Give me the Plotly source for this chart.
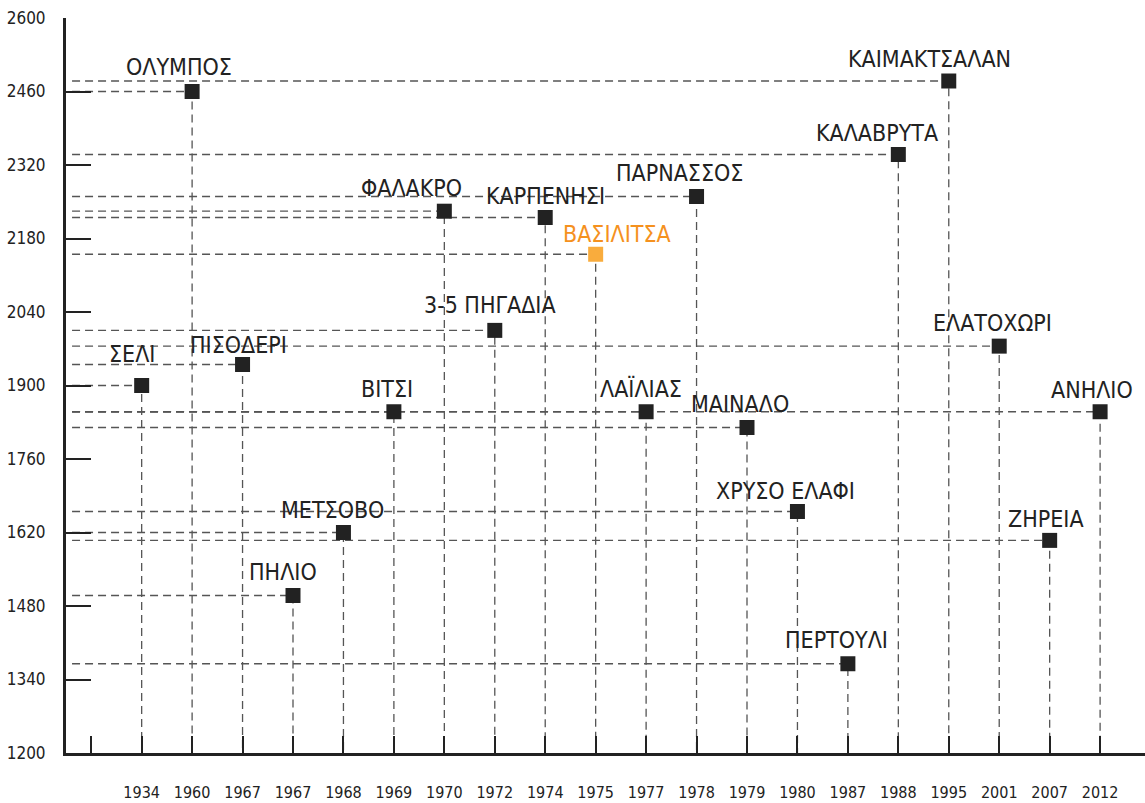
import plotly.graph_objects as go

years = ["1934", "1960", "1967", "1967", "1968", "1969", "1970", "1972", "1974", "1975",
         "1977", "1978", "1979", "1980", "1987", "1988", "1995", "2001", "2007", "2012"]
resorts = ["ΣΕΛΙ", "ΟΛΥΜΠΟΣ", "ΠΙΣΟΔΕΡΙ", "ΠΗΛΙΟ", "ΜΕΤΣΟΒΟ", "ΒΙΤΣΙ", "ΦΑΛΑΚΡΟ",
           "3-5 ΠΗΓΑΔΙΑ", "ΚΑΡΠΕΝΗΣΙ", "ΒΑΣΙΛΙΤΣΑ", "ΛΑΪΛΙΑΣ", "ΠΑΡΝΑΣΣΟΣ", "ΜΑΙΝΑΛΟ",
           "ΧΡΥΣΟ ΕΛΑΦΙ", "ΠΕΡΤΟΥΛΙ", "ΚΑΛΑΒΡΥΤΑ", "ΚΑΙΜΑΚΤΣΑΛΑΝ", "ΕΛΑΤΟΧΩΡΙ",
           "ΖΗΡΕΙΑ", "ΑΝΗΛΙΟ"]
altitude = [1900, 2460, 1940, 1500, 1620, 1850, 2232, 2005, 2220, 2150,
            1850, 2260, 1820, 1660, 1370, 2340, 2480, 1975, 1605, 1850]
highlight = "ΒΑΣΙΛΙΤΣΑ"

y_ticks = [1200, 1340, 1480, 1620, 1760, 1900, 2040, 2180, 2320, 2460, 2600]

# label offsets in pixels (styling only)
label_shift = {
    "ΣΕΛΙ": (-10, 32), "ΟΛΥΜΠΟΣ": (-13, 25), "ΠΙΣΟΔΕΡΙ": (-4, 20), "ΠΗΛΙΟ": (-10, 24),
    "ΜΕΤΣΟΒΟ": (-11, 23), "ΒΙΤΣΙ": (-7, 23), "ΦΑΛΑΚΡΟ": (-33, 23), "3-5 ΠΗΓΑΔΙΑ": (-5, 25),
    "ΚΑΡΠΕΝΗΣΙ": (0, 22), "ΒΑΣΙΛΙΤΣΑ": (21, 20), "ΛΑΪΛΙΑΣ": (-5, 23), "ΠΑΡΝΑΣΣΟΣ": (-17, 24),
    "ΜΑΙΝΑΛΟ": (-7, 24), "ΧΡΥΣΟ ΕΛΑΦΙ": (-12, 21), "ΠΕΡΤΟΥΛΙ": (-11, 24), "ΚΑΛΑΒΡΥΤΑ": (-21, 22),
    "ΚΑΙΜΑΚΤΣΑΛΑΝ": (-19, 22), "ΕΛΑΤΟΧΩΡΙ": (-7, 23), "ΖΗΡΕΙΑ": (-4, 21), "ΑΝΗΛΙΟ": (-8, 22),
}

DARK = "#222222"
ORANGE_MARK = "#F9AC3D"
ORANGE_TEXT = "#F5911E"
LABEL_FONT = "DejaVu Sans Condensed, DejaVu Sans, sans-serif"

x_pos = list(range(1, len(years) + 1))
x_min = -0.5
y_min = y_ticks[0]
line_start = x_min + 0.12

fig = go.Figure()

for xp, v in zip(x_pos, altitude):
    fig.add_trace(go.Scatter(
        x=[line_start, xp, xp], y=[v, v, y_min], mode="lines",
        line=dict(color="#555555", width=1.3, dash="8px,5px"),
        hoverinfo="skip", showlegend=False))

colors = [ORANGE_MARK if r == highlight else DARK for r in resorts]
fig.add_trace(go.Scatter(
    x=x_pos, y=altitude, mode="markers",
    marker=dict(symbol="square", size=15, color=colors, line=dict(width=0)),
    text=resorts, hovertemplate="%{text}: %{y}<extra></extra>", showlegend=False))

for xp, v, r in zip(x_pos, altitude, resorts):
    dx, dy = label_shift[r]
    fig.add_annotation(
        x=xp, y=v, text=r, showarrow=False, xanchor="center", yanchor="middle",
        xshift=dx, yshift=dy,
        font=dict(family=LABEL_FONT, size=23,
                  color=ORANGE_TEXT if r == highlight else DARK))

fig.update_xaxes(
    range=[x_min, len(years) + 0.89],
    tickmode="array", tickvals=[0] + x_pos, ticktext=[""] + years,
    showline=True, linewidth=3, linecolor=DARK,
    ticks="inside", ticklen=17, tickwidth=2, tickcolor=DARK,
    ticklabelstandoff=23, ticklabeloverflow="allow", automargin=False,
    showgrid=False, zeroline=False,
    tickfont=dict(family=LABEL_FONT, size=16, color=DARK))

fig.update_yaxes(
    range=[y_ticks[0], y_ticks[-1]],
    tickmode="array", tickvals=y_ticks,
    showline=True, linewidth=3, linecolor=DARK,
    ticks="inside", ticklen=25, tickwidth=2, tickcolor=DARK,
    ticklabelstandoff=14, ticklabeloverflow="allow", automargin=False,
    showgrid=False, zeroline=False,
    tickfont=dict(family=LABEL_FONT, size=17, color=DARK))

fig.update_layout(
    width=1145, height=803,
    margin=dict(l=66, r=0, t=18, b=50),
    plot_bgcolor="white", paper_bgcolor="white")

fig.write_html("out.html", config={"displayModeBar": False},
               post_script="document.body.style.margin='0';document.body.style.overflow='hidden';")
